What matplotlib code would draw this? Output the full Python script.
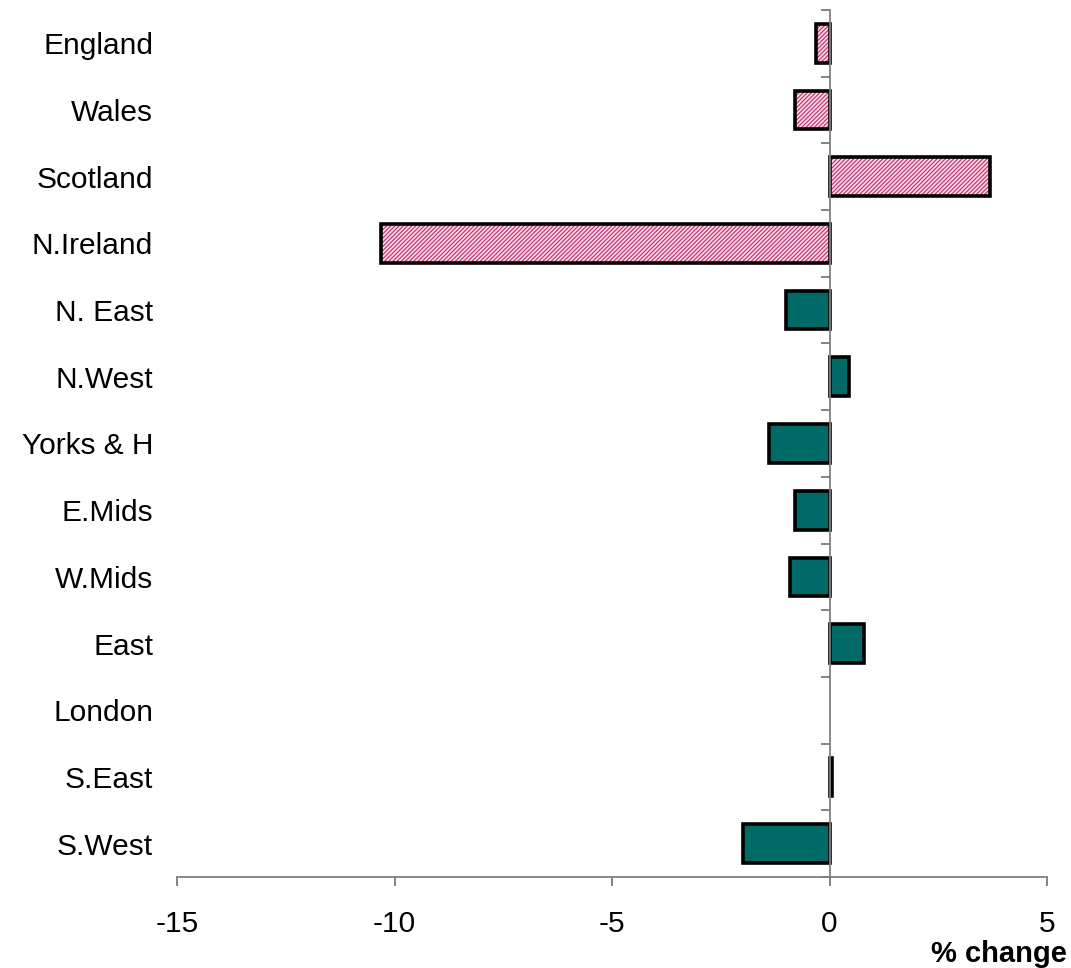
import numpy as np
import matplotlib.pyplot as plt

# regions, top to bottom
regions = ["England", "Wales", "Scotland", "N.Ireland", "N. East", "N.West",
           "Yorks & H", "E.Mids", "W.Mids", "East", "London", "S.East", "S.West"]
pct_change = [-0.3, -0.8, 3.7, -10.3, -1.0, 0.45, -1.4, -0.8, -0.9, 0.8, 0.0, 0.05, -2.0]
# first four are the nations (hatched pink), rest English regions (teal)
n_nations = 4

plt.rcParams["font.family"] = ["Liberation Sans", "DejaVu Sans"]
plt.rcParams["hatch.linewidth"] = 0.9

fig = plt.figure(figsize=(10.71, 9.68), dpi=100)
ax = fig.add_axes([177/1071, 1 - 877/968, 870/1071, 867/968])

y = np.arange(len(regions))
vals = np.array(pct_change)
nat = y < n_nations
bh = 0.58

# hatched fill for nations
ax.barh(y[nat], vals[nat], height=bh, color="#fae0ec", edgecolor="#c8336f",
        hatch="////////", linewidth=0, zorder=2)
ax.barh(y[~nat], vals[~nat], height=bh, color="#006b66", linewidth=0, zorder=2)
# black outlines
ax.barh(y[vals != 0], vals[vals != 0], height=bh, fill=False, edgecolor="black",
        linewidth=2.6, zorder=3)

ax.set_xlim(-15, 5)
ax.set_ylim(len(regions) - 0.5, -0.5)
ax.set_xticks([-15, -10, -5, 0, 5])
ax.set_xticklabels(["-15", "-10", "-5", "0", "5"])

for s in ["top", "right"]:
    ax.spines[s].set_visible(False)
ax.spines["left"].set_position(("data", 0))
for s in ["left", "bottom"]:
    ax.spines[s].set_color("#808080")
    ax.spines[s].set_linewidth(1.3)
    ax.spines[s].set_zorder(4)

ax.set_yticks(y)
ax.set_yticklabels(regions)
ax.set_yticks(np.arange(len(regions) + 1) - 0.5, minor=True)
ax.tick_params(axis="y", which="major", length=0, pad=487, labelsize=21.5)
ax.tick_params(axis="y", which="minor", length=6.5, width=1.1, color="#606060",
               direction="out")
ax.tick_params(axis="x", length=6.5, width=1.1, color="#606060", pad=17,
               labelsize=21.5)

fig.text(1067/1071, 1 - 962/968, "% change", ha="right", va="baseline",
         fontsize=21, fontweight="bold")

fig.savefig("out.png", dpi=100)
